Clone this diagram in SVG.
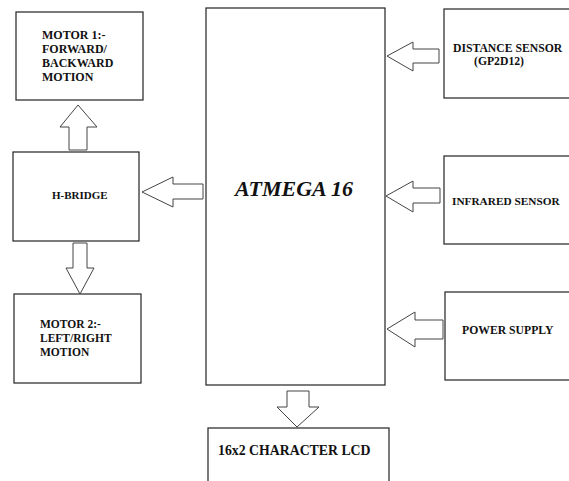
<svg xmlns="http://www.w3.org/2000/svg" width="569" height="481" viewBox="0 0 569 481">
<style>
.box{fill:#fff;stroke:#222;stroke-width:1.2}
.arr{fill:#fff;stroke:#444;stroke-width:1}
text{font-family:"Liberation Serif","Times New Roman",serif;font-weight:bold;font-size:11.5px;fill:#111}
</style>
<rect x="0" y="0" width="569" height="481" fill="#fff"/>
<g id="motor1">
<rect class="box" x="16" y="12" width="127" height="88"/>
<text x="42" y="39" style="font-size:12px">MOTOR 1:-</text>
<text x="42" y="53" style="font-size:12px">FORWARD/</text>
<text x="42" y="67" style="font-size:12px">BACKWARD</text>
<text x="42" y="81" style="font-size:12px">MOTION</text>
</g>
<g id="hbridge">
<rect class="box" x="13" y="152" width="126" height="89"/>
<text x="52" y="199" style="font-size:11px">H-BRIDGE</text>
</g>
<g id="motor2">
<rect class="box" x="14" y="294" width="127" height="89"/>
<text x="40" y="328">MOTOR 2:-</text>
<text x="40" y="342">LEFT/RIGHT</text>
<text x="40" y="356">MOTION</text>
</g>
<g id="atmega">
<rect class="box" x="206" y="8" width="179" height="377"/>
<text x="235" y="196" style="font-size:22px;font-style:italic">ATMEGA 16</text>
</g>
<g id="distance">
<rect class="box" x="444" y="9" width="140" height="89"/>
<text x="453" y="52" style="font-size:11.7px">DISTANCE SENSOR</text>
<text x="474" y="65" style="font-size:11.7px">(GP2D12)</text>
</g>
<g id="infrared">
<rect class="box" x="444" y="156" width="140" height="88"/>
<text x="452" y="205" style="font-size:11.3px">INFRARED SENSOR</text>
</g>
<g id="power">
<rect class="box" x="445" y="292" width="140" height="88"/>
<text x="462" y="334" style="font-size:11.7px">POWER SUPPLY</text>
</g>
<g id="lcd">
<rect class="box" x="208" y="428" width="181" height="70"/>
<text x="218" y="455" style="font-size:13.8px">16x2 CHARACTER LCD</text>
</g>
<g id="connectors">
<polygon class="arr" points="69,150 69,127 60,127 78,105 97,127 87,127 87,150"/>
<polygon class="arr" points="142,192 173,177 173,184 203,184 203,199 173,199 173,207"/>
<polygon class="arr" points="73,243 87,243 87,268 94,268 80,294 66,268 73,268"/>
<polygon class="arr" points="387,56 413,42 413,49 439,49 439,63 413,63 413,71"/>
<polygon class="arr" points="386,196 413,181 413,188 440,188 440,203 413,203 413,212"/>
<polygon class="arr" points="387,329 415,312 415,320 443,320 443,339 415,339 415,347"/>
<polygon class="arr" points="287,391 309,391 309,407 319,407 297,427 277,407 287,407"/>
</g>
</svg>
